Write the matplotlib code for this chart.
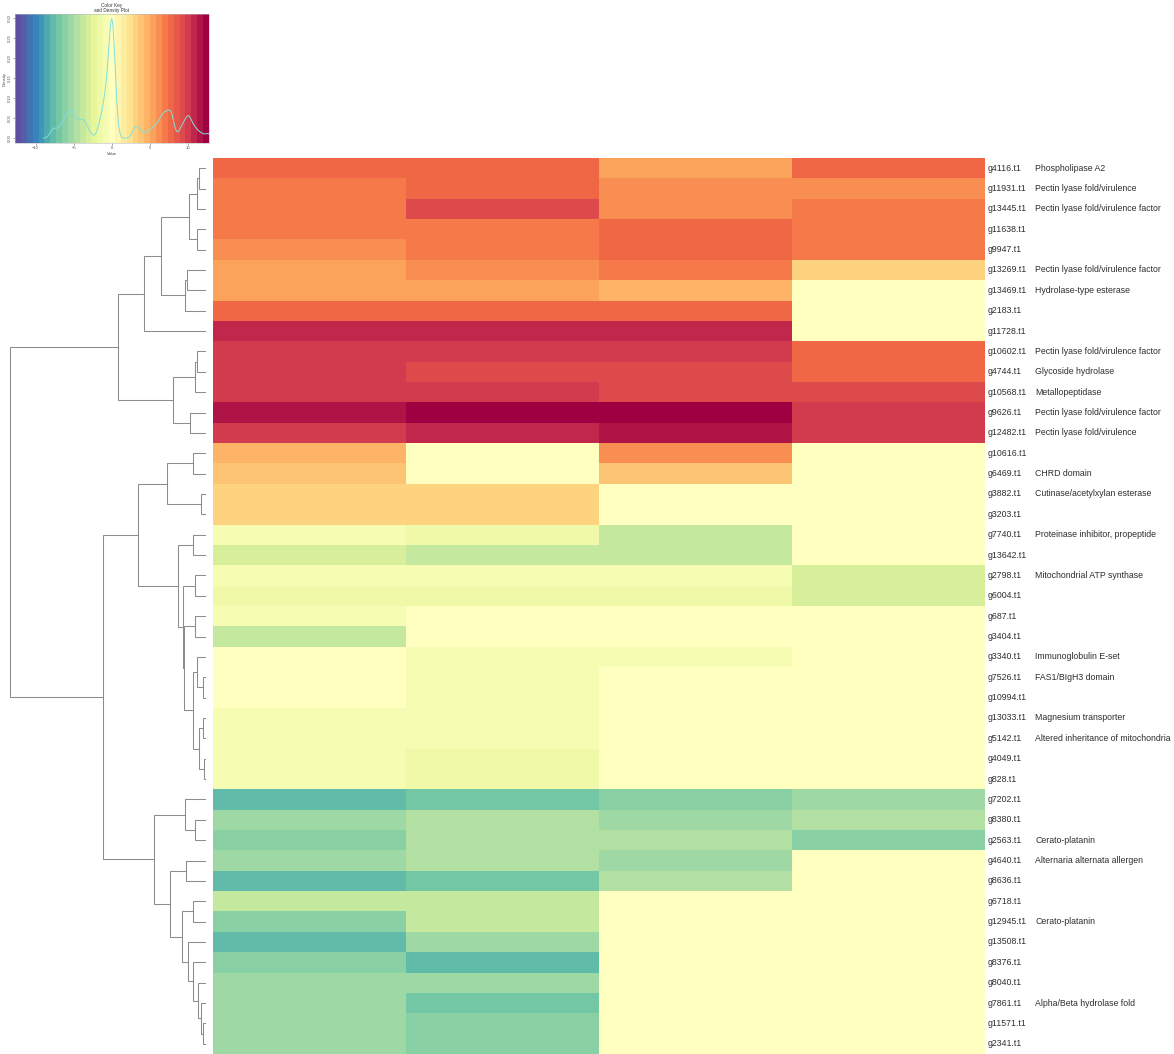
import numpy as np
import matplotlib
matplotlib.use("Agg")
import matplotlib.pyplot as plt
from matplotlib.colors import ListedColormap, BoundaryNorm
from matplotlib import transforms

# ---------------------------------------------------------------- data
genes = [
    "g4116.t1", "g11931.t1", "g13445.t1", "g11638.t1", "g9947.t1", "g13269.t1",
    "g13469.t1", "g2183.t1", "g11728.t1", "g10602.t1", "g4744.t1", "g10568.t1",
    "g9626.t1", "g12482.t1", "g10616.t1", "g6469.t1", "g3882.t1", "g3203.t1",
    "g7740.t1", "g13642.t1", "g2798.t1", "g6004.t1", "g687.t1", "g3404.t1",
    "g3340.t1", "g7526.t1", "g10994.t1", "g13033.t1", "g5142.t1", "g4049.t1",
    "g828.t1", "g7202.t1", "g8380.t1", "g2563.t1", "g4640.t1", "g8636.t1",
    "g6718.t1", "g12945.t1", "g13508.t1", "g8376.t1", "g8040.t1", "g7861.t1",
    "g11571.t1", "g2341.t1",
]

annotations = [
    "Phospholipase A2", "Pectin lyase fold/virulence",
    "Pectin lyase fold/virulence factor", "", "",
    "Pectin lyase fold/virulence factor", "Hydrolase-type esterase", "", "",
    "Pectin lyase fold/virulence factor", "Glycoside hydrolase", "Metallopeptidase",
    "Pectin lyase fold/virulence factor", "Pectin lyase fold/virulence", "",
    "CHRD domain", "Cutinase/acetylxylan esterase", "",
    "Proteinase inhibitor, propeptide", "", "Mitochondrial ATP synthase", "", "", "",
    "Immunoglobulin E-set", "FAS1/BIgH3 domain", "", "Magnesium transporter",
    "Altered inheritance of mitochondria", "", "", "", "", "Cerato-platanin",
    "Alternaria alternata allergen", "", "", "Cerato-platanin", "", "", "",
    "Alpha/Beta hydrolase fold", "", "",
]

# log2 fold change per condition (one list per heatmap column)
cond1 = [7.7, 6.9, 6.9, 6.9, 6.2, 5.4, 5.4, 7.7, 10.8, 10.0,
         10.0, 10.0, 11.6, 10.0, 4.6, 3.8, 3.1, 3.1, -0.8, -3.1,
         -0.8, -1.5, -0.8, -3.8, 0.0, 0.0, 0.0, -0.8, -0.8, -0.8,
         -0.8, -7.7, -5.4, -6.2, -5.4, -7.7, -3.8, -6.2, -7.7, -6.2,
         -5.4, -5.4, -5.4, -5.4]
cond2 = [7.7, 7.7, 9.2, 6.9, 6.9, 6.2, 5.4, 7.7, 10.8, 10.0,
         9.2, 10.0, 12.6, 10.8, 0.0, 0.0, 3.1, 3.1, -1.5, -3.8,
         -0.8, -1.5, 0.0, 0.0, -0.8, -0.8, -0.8, -0.8, -0.8, -1.5,
         -1.5, -6.9, -4.6, -4.6, -4.6, -6.9, -3.8, -3.8, -5.4, -7.7,
         -5.4, -6.9, -6.2, -6.2]
cond3 = [5.4, 6.2, 6.2, 7.7, 7.7, 6.9, 4.6, 7.7, 10.8, 10.0,
         9.2, 9.2, 12.6, 11.6, 6.2, 3.8, 0.0, 0.0, -3.8, -3.8,
         -0.8, -1.5, 0.0, 0.0, -0.8, 0.0, 0.0, 0.0, 0.0, 0.0,
         0.0, -6.2, -5.4, -4.6, -5.4, -4.6, 0.0, 0.0, 0.0, 0.0,
         0.0, 0.0, 0.0, 0.0]
cond4 = [7.7, 6.2, 6.9, 6.9, 6.9, 3.1, 0.0, 0.0, 0.0, 7.7,
         7.7, 9.2, 10.0, 10.0, 0.0, 0.0, 0.0, 0.0, 0.0, 0.0,
         -3.1, -3.1, 0.0, 0.0, 0.0, 0.0, 0.0, 0.0, 0.0, 0.0,
         0.0, -5.4, -4.6, -6.2, 0.0, 0.0, 0.0, 0.0, 0.0, 0.0,
         0.0, 0.0, 0.0, 0.0]

# row dendrogram: (child_a, child_b, height); leaves 0..43 in display order,
# merged nodes numbered from 44 upward in the order listed
row_linkage = [
    (0, 1, 6), (44, 2, 8), (3, 4, 8), (45, 46, 16), (5, 6, 18.3), (48, 7, 19.7),
    (47, 49, 44), (50, 8, 61), (9, 10, 8), (52, 11, 10), (12, 13, 15),
    (53, 54, 32), (51, 55, 87),
    (14, 15, 12), (16, 17, 4), (57, 58, 38), (18, 19, 12), (20, 21, 10),
    (22, 23, 10), (25, 26, 2), (24, 63, 8), (27, 28, 2), (29, 30, 1),
    (65, 66, 6), (64, 67, 12), (62, 68, 20.7), (61, 69, 22), (60, 70, 27),
    (59, 71, 67),
    (32, 33, 10), (31, 73, 20), (34, 35, 19), (36, 37, 12), (42, 43, 2),
    (41, 77, 4), (40, 78, 7), (39, 79, 12), (38, 80, 17), (76, 81, 23),
    (75, 82, 35), (74, 83, 51),
    (72, 84, 102), (56, 85, 195),
]

key_limit = 12.7
n_colors = 33
key_ticks = [-10, -5, 0, 5, 10]

# ---------------------------------------------------------------- setup
plt.rcParams["font.family"] = ["Liberation Sans", "DejaVu Sans"]
W, H = 1174, 1054
fig = plt.figure(figsize=(W / 100, H / 100), dpi=100)


def px_axes(x0, y0, x1, y1):
    """Axes from a pixel box given with a top-left origin."""
    return fig.add_axes([x0 / W, 1 - y1 / H, (x1 - x0) / W, (y1 - y0) / H])


data = np.column_stack([cond1, cond2, cond3, cond4])
n_rows, n_cols = data.shape

palette = plt.get_cmap("Spectral_r").resampled(n_colors)
cmap = ListedColormap(palette(np.linspace(0, 1, n_colors)))
breaks = np.linspace(-key_limit, key_limit, n_colors + 1)
norm = BoundaryNorm(breaks, cmap.N)

# ---------------------------------------------------------------- heatmap
ax_hm = px_axes(213, 158, 985, 1054)
ax_hm.pcolormesh(np.arange(n_cols + 1), np.arange(n_rows + 1), data,
                 cmap=cmap, norm=norm, edgecolors="none", antialiased=False)
ax_hm.set_xlim(0, n_cols)
ax_hm.set_ylim(n_rows, 0)
ax_hm.axis("off")

trans = transforms.blended_transform_factory(fig.transFigure, ax_hm.transData)
for i, (g, a) in enumerate(zip(genes, annotations)):
    ax_hm.text(988 / W, i + 0.5, g, transform=trans, fontsize=6.3,
               color="#2e2e2e", va="center", ha="left")
    if a:
        ax_hm.text(1035 / W, i + 0.5, a, transform=trans, fontsize=6.3,
                   color="#2e2e2e", va="center", ha="left")

# ---------------------------------------------------------------- dendrogram
ax_dg = px_axes(10, 158, 205, 1054)
pos = {i: (i + 0.5, 0.0) for i in range(n_rows)}
for k, (a, b, h) in enumerate(row_linkage):
    ya, ha = pos[a]
    yb, hb = pos[b]
    ax_dg.plot([ha, h, h, hb], [ya, ya, yb, yb], color="#8c8c8c", lw=0.75,
               solid_joinstyle="miter", clip_on=False)
    pos[n_rows + k] = ((ya + yb) / 2, h)
root_h = row_linkage[-1][2]
ax_dg.set_xlim(root_h, 0)
ax_dg.set_ylim(n_rows, 0)
ax_dg.axis("off")

# ---------------------------------------------------------------- color key
vals = data.ravel()
n = vals.size
q75, q25 = np.percentile(vals, [75, 25])
bw = 0.25 * 0.9 * min(vals.std(ddof=1), (q75 - q25) / 1.34) * n ** -0.2
grid = np.linspace(vals.min() - 3 * bw, vals.max() + 3 * bw, 512)
dens = np.exp(-0.5 * ((grid[:, None] - vals[None, :]) / bw) ** 2).sum(1) / (
    n * bw * np.sqrt(2 * np.pi))

ax_key = px_axes(15, 14, 209, 143)
ymax = dens.max()
ylo, yhi = -0.04 * ymax, 1.04 * ymax
ax_key.pcolormesh(breaks, [ylo, yhi], ((breaks[:-1] + breaks[1:]) / 2)[None, :],
                  cmap=cmap, norm=norm, edgecolors="none", antialiased=False)
ax_key.plot(grid, dens, color="#80e0dc", lw=0.7)
ax_key.set_xlim(-key_limit, key_limit)
ax_key.set_ylim(ylo, yhi)
ax_key.set_xticks(key_ticks)
ax_key.tick_params(labelsize=3.0, length=1.5, width=0.4, pad=1, colors="#555555")
ax_key.tick_params(axis="y", labelrotation=90)
for lbl in ax_key.get_yticklabels():
    lbl.set_verticalalignment("center")
for s in ax_key.spines.values():
    s.set_linewidth(0.4)
    s.set_color("#bbbbbb")
ax_key.set_title("Color Key\nand Density Plot", fontsize=3.4, pad=1.5,
                 color="#333333", linespacing=1.0)
ax_key.set_xlabel("Value", fontsize=3.0, labelpad=1, color="#444444")
ax_key.set_ylabel("Density", fontsize=3.0, labelpad=1, color="#444444")

fig.savefig("out.png", dpi=100)
